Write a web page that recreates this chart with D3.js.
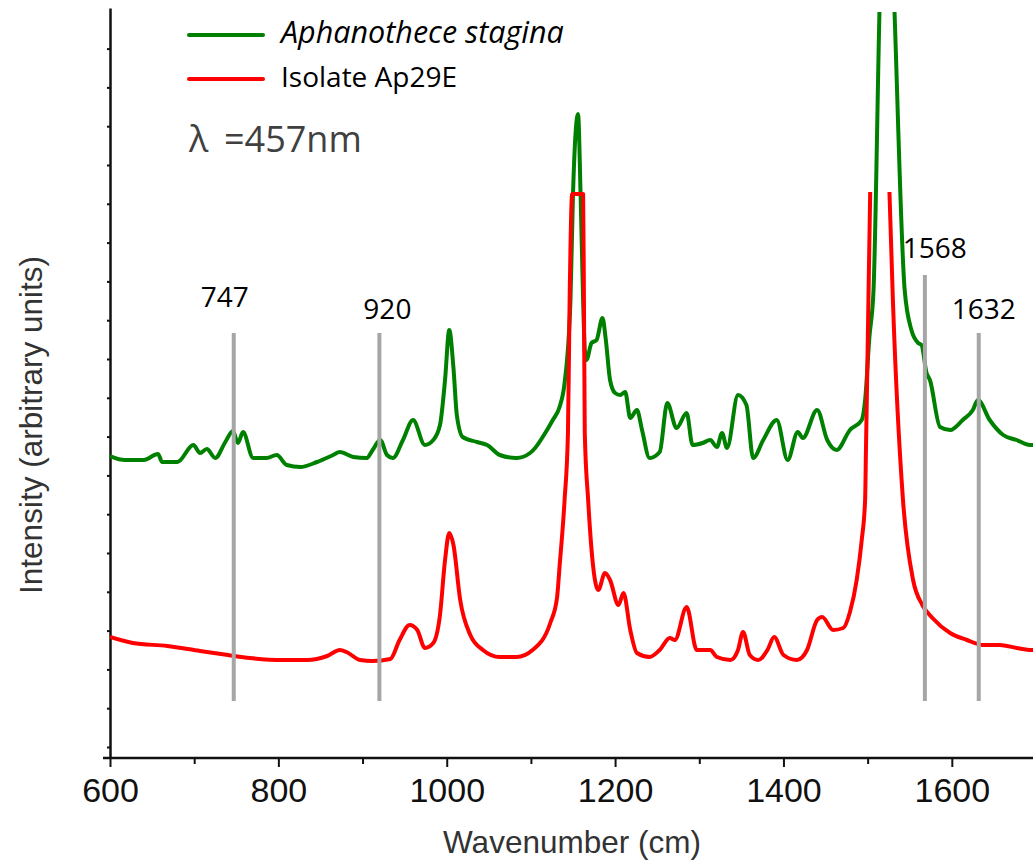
<!DOCTYPE html>
<html>
<head>
<meta charset="utf-8">
<script src="https://cdn.jsdelivr.net/npm/d3@7/dist/d3.min.js"></script>
<style>
body { margin: 0; background: #fff; }
</style>
</head>
<body>
<script>
/* Values (intensity in arbitrary units) */
var xTickValues = [600, 800, 1000, 1200, 1400, 1600];
var xMinorTicks = [700, 900, 1100, 1300, 1500, 1700];
var markerWavenumbers = [747, 920, 1568, 1632];
var markerTops = [425, 425, 483, 425];
var markerBottom = 57;
var seriesNames = ["Aphanothece stagina", "Isolate Ap29E"];
var seriesColors = ["#008000", "#ff0000"];

var apSpectrum = [[600,302],[618,298],[640,298],[657,304],[662,296],[680,296],[699,313],[707,305],[715,309],[725,300],
	[737,316],[746,327],[752,315],[758,326],[770,300],[786,300],[798,303],[810,293],[826,291],[846,296],
	[865,303],[873,306],[889,301],[905,300],[912,308],[921,318],[929,303],[936,300],[948,318],[960,338],
	[974,313],[984,318],[992,333],[998,378],[1003,428],[1008,390],[1012,343],[1019,321],[1036,316],[1048,313],
	[1063,303],[1083,300],[1099,305],[1105,310],[1117,325],[1126,338],[1134,351],[1140,375],[1147,458],[1150,564],
	[1156,644],[1159,564],[1162,458],[1164,408],[1166,398],[1172,415],[1178,418],[1185,440],[1189,418],[1194,378],
	[1200,365],[1206,363],[1212,366],[1218,340],[1226,348],[1232,328],[1241,300],[1253,306],[1262,355],[1273,330],
	[1285,345],[1292,313],[1304,315],[1313,318],[1321,311],[1327,325],[1333,310],[1346,363],[1356,353],[1364,300],
	[1376,318],[1392,338],[1405,298],[1417,326],[1423,320],[1440,348],[1452,318],[1463,308],[1479,328],[1493,338],
	[1497,358],[1502,420],[1507,468],[1514,745],[1522,1000],[1532,745],[1544,468],[1552,428],[1560,415],[1564,413],
	[1570,385],[1574,378],[1586,331],[1598,328],[1613,338],[1625,348],[1631,358],[1645,338],[1661,323],[1677,318],
	[1693,313],[1700,313]];

var isoSpectrum = [[600,121],[627,115],[668,112],[707,107],[740,103],[766,100],[805,98],[834,98],[858,102],[873,108],
	[881,106],[897,98],[912,97],[933,99],[944,118],[956,133],[965,128],[974,110],[984,115],[992,143],
	[998,198],[1003,225],[1008,213],[1016,158],[1028,123],[1043,108],[1063,101],[1083,101],[1102,108],[1123,135],
	[1131,160],[1134,191],[1140,258],[1144,325],[1146,458],[1149,564],[1155,564],[1162,564],[1163,458],[1164,325],
	[1168,258],[1174,191],[1180,168],[1188,185],[1194,178],[1204,153],[1210,165],[1218,128],[1226,105],[1241,101],
	[1253,108],[1265,120],[1271,118],[1285,151],[1297,108],[1313,108],[1321,101],[1337,98],[1346,108],[1352,126],
	[1360,103],[1370,98],[1381,108],[1389,121],[1400,103],[1416,98],[1428,108],[1440,138],[1446,141],[1459,128],
	[1471,130],[1479,146],[1487,178],[1493,218],[1497,258],[1498,308],[1500,408],[1503,564],[1515,900],[1526,564],
	[1530,458],[1542,258],[1554,178],[1565,153],[1577,140],[1598,125],[1618,118],[1637,113],[1657,113],[1677,110],
	[1695,108],[1700,108]];

/* Display setup */
var displayArea = {width: 1033, height: 863},
	x = d3.scaleLinear().domain([600, 1700]).range([110, 1036]),
	y = d3.scaleLinear().domain([0, 750]).range([758, 8]),
	svg = d3.select("body").append("svg")
		.attr("width", displayArea.width)
		.attr("height", displayArea.height)
		.style("display", "block"),
	labelFont = "'Open Sans', Lato, sans-serif",
	axisFont = "'Liberation Sans', Arial, sans-serif";

var defs = svg.append("defs");
defs.append("clipPath").attr("id", "clip-ap")
	.append("rect").attr("x", x(600)).attr("y", 12).attr("width", displayArea.width).attr("height", displayArea.height);
defs.append("clipPath").attr("id", "clip-iso")
	.append("rect").attr("x", x(600)).attr("y", 192).attr("width", displayArea.width).attr("height", displayArea.height);

/* Axes */
var xAxis = svg.append("g")
	.attr("transform", "translate(0," + y(0) + ")")
	.call(d3.axisBottom(x).tickValues(xTickValues).tickFormat(d3.format("d")).tickSize(9).tickPadding(11).tickSizeOuter(0));
xAxis.select(".domain").remove();
xAxis.selectAll("line").attr("stroke", "#111").attr("stroke-width", 2);
xAxis.selectAll("text")
	.style("font-family", axisFont)
	.style("font-size", "34px")
	.attr("fill", "#111");

var xMinor = svg.append("g")
	.attr("transform", "translate(0," + y(0) + ")")
	.call(d3.axisBottom(x).tickValues(xMinorTicks).tickSize(6).tickFormat("").tickSizeOuter(0));
xMinor.select(".domain").remove();
xMinor.selectAll("line").attr("stroke", "#111").attr("stroke-width", 2);

svg.append("line")
	.attr("x1", 103).attr("x2", displayArea.width)
	.attr("y1", y(0)).attr("y2", y(0))
	.attr("stroke", "#111").attr("stroke-width", 2.5);

var yAxis = svg.append("g")
	.attr("transform", "translate(" + x(600) + ",0)")
	.call(d3.axisLeft(y).tickValues(d3.range(11, 720, 38.8)).tickSize(3).tickFormat("").tickSizeOuter(0));
yAxis.select(".domain").attr("stroke", "#111").attr("stroke-width", 2.5);
yAxis.selectAll("line").attr("stroke", "#111").attr("stroke-width", 2);

svg.append("text")
	.attr("transform", "translate(42," + 425 + ") rotate(-90)")
	.attr("text-anchor", "middle")
	.style("font-family", axisFont)
	.style("font-size", "31.5px")
	.attr("fill", "#333")
	.text("Intensity (arbitrary units)");

svg.append("text")
	.attr("x", 572).attr("y", 853)
	.attr("text-anchor", "middle")
	.style("font-family", axisFont)
	.style("font-size", "31.5px")
	.attr("fill", "#333")
	.text("Wavenumber (cm)");

/* Spectra */
var line = d3.line()
	.curve(d3.curveMonotoneX)
	.x(function(d) { return x(d[0]); })
	.y(function(d) { return y(d[1]); });

svg.append("path")
	.datum(apSpectrum)
	.attr("clip-path", "url(#clip-ap)")
	.attr("d", line)
	.attr("fill", "none")
	.attr("stroke", seriesColors[0])
	.attr("stroke-width", 4)
	.attr("stroke-linejoin", "round");

svg.append("path")
	.datum(isoSpectrum)
	.attr("clip-path", "url(#clip-iso)")
	.attr("d", line)
	.attr("fill", "none")
	.attr("stroke", seriesColors[1])
	.attr("stroke-width", 4)
	.attr("stroke-linejoin", "round");

/* Band markers */
var markerLabelShift = [{dx: -9, dy: -26}, {dx: 8, dy: -14}, {dx: 10, dy: -17}, {dx: 5, dy: -14}];
var markers = svg.selectAll("g.marker")
	.data(markerWavenumbers)
	.enter().append("g")
		.attr("class", "marker");

markers.append("line")
	.attr("x1", function(d) { return x(d); })
	.attr("x2", function(d) { return x(d); })
	.attr("y1", function(d, i) { return y(markerTops[i]); })
	.attr("y2", y(markerBottom))
	.attr("stroke", "#a6a6a6")
	.attr("stroke-width", 4);

markers.append("text")
	.attr("x", function(d, i) { return x(d) + markerLabelShift[i].dx; })
	.attr("y", function(d, i) { return y(markerTops[i]) + markerLabelShift[i].dy; })
	.attr("text-anchor", "middle")
	.style("font-family", labelFont)
	.style("font-size", "28px")
	.attr("fill", "#000")
	.text(function(d) { return d; });

/* Legend */
var legend = svg.selectAll("g.legend")
	.data(seriesNames)
	.enter().append("g")
		.attr("class", "legend")
		.attr("transform", function(d, i) { return "translate(189," + (35 + i * 44) + ")"; });

legend.append("line")
	.attr("x1", 0).attr("x2", 74)
	.attr("stroke", function(d, i) { return seriesColors[i]; })
	.attr("stroke-width", 4)
	.attr("stroke-linecap", "round");

legend.append("text")
	.attr("x", 92).attr("y", 8)
	.style("font-family", labelFont)
	.style("font-size", function(d, i) { return i == 0 ? "30.5px" : "28px"; })
	.style("font-style", function(d, i) { return i == 0 ? "italic" : "normal"; })
	.attr("fill", "#000")
	.text(function(d) { return d; });

svg.append("text")
	.attr("x", 189).attr("y", 152)
	.style("font-family", labelFont)
	.style("font-size", "36px")
	.attr("fill", "#404040")
	.text("\u03bb");
svg.append("text")
	.attr("x", 224).attr("y", 152)
	.style("font-family", labelFont)
	.style("font-size", "36px")
	.attr("fill", "#404040")
	.text("=457nm");
</script>
</body>
</html>
